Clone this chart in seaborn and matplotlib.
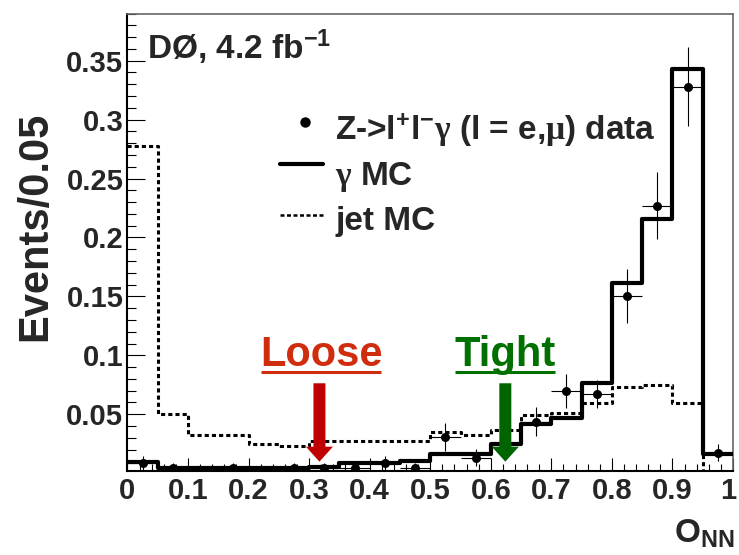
import numpy as np
import pandas as pd
import matplotlib
matplotlib.use("Agg")
import matplotlib.pyplot as plt
import matplotlib.transforms as mtransforms
import seaborn as sns
from matplotlib.ticker import FixedLocator, MultipleLocator

# ---------------- data ----------------
bin_edges = [0.0, 0.05, 0.1, 0.15, 0.2, 0.25, 0.3, 0.35, 0.4, 0.45, 0.5,
             0.55, 0.6, 0.65, 0.7, 0.75, 0.8, 0.85, 0.9, 0.95, 1.0]
bin_centers = [0.025, 0.075, 0.125, 0.175, 0.225, 0.275, 0.325, 0.375, 0.425, 0.475,
               0.525, 0.575, 0.625, 0.675, 0.725, 0.775, 0.825, 0.875, 0.925, 0.975]
gamma_mc = [0.0093, 0.0042, 0.0042, 0.0042, 0.0042, 0.0042, 0.0050, 0.0084, 0.0084, 0.0106,
            0.0163, 0.0163, 0.0250, 0.0418, 0.0466, 0.0768, 0.1610, 0.2158, 0.3430, 0.0160]
jet_mc = [0.2780, 0.0503, 0.0324, 0.0324, 0.0248, 0.0231, 0.0276, 0.0276, 0.0276, 0.0276,
          0.0352, 0.0324, 0.0367, 0.0494, 0.0508, 0.0596, 0.0734, 0.0749, 0.0593, 0.0010]
data_vals = [0.0084, 0.0042, 0.0, 0.0042, 0.0, 0.0042, 0.0042, 0.0042, 0.0084, 0.0042,
             0.0305, 0.0133, 0.0250, 0.0437, 0.0700, 0.0670, 0.1504, 0.2271, 0.3280, 0.0174]
data_errs = [0.0060, 0.0042, 0.0, 0.0042, 0.0, 0.0042, 0.0042, 0.0042, 0.0060, 0.0042,
             0.0120, 0.0072, 0.0100, 0.0122, 0.0145, 0.0120, 0.0227, 0.0283, 0.0332, 0.0071]
x_ticks = [0.0, 0.1, 0.2, 0.3, 0.4, 0.5, 0.6, 0.7, 0.8, 0.9, 1.0]
x_tick_labels = ["0", "0.1", "0.2", "0.3", "0.4", "0.5", "0.6", "0.7", "0.8", "0.9", "1"]
y_ticks = [0.05, 0.1, 0.15, 0.2, 0.25, 0.3, 0.35]
y_tick_labels = ["0.05", "0.1", "0.15", "0.2", "0.25", "0.3", "0.35"]
loose_cut = 0.317
tight_cut = 0.624
arrow_top = 0.0763
arrow_tip = 0.0098
label_y = 0.0906

# ---------------- style ----------------
sns.set_style("ticks")
plt.rcParams["font.family"] = ["Liberation Sans", "DejaVu Sans"]
plt.rcParams["font.weight"] = "bold"
plt.rcParams["mathtext.fontset"] = "custom"
plt.rcParams["mathtext.rm"] = "Liberation Sans:bold"
plt.rcParams["mathtext.bf"] = "Liberation Sans:bold"
plt.rcParams["mathtext.sf"] = "Liberation Serif"
plt.rcParams["mathtext.default"] = "regular"

fig = plt.figure(figsize=(7.39, 5.55), dpi=100)
ax = fig.add_axes([0.17253, 0.15225, 0.81935, 0.82342])

hist_df = pd.DataFrame({"center": bin_centers, "gamma": gamma_mc, "jet": jet_mc})

sns.histplot(data=hist_df, x="center", weights="jet", bins=bin_edges, element="step",
             fill=False, color="black", linewidth=2.2, linestyle=(0, (1.35, 1.0)),
             ax=ax, zorder=2)
sns.histplot(data=hist_df, x="center", weights="gamma", bins=bin_edges, element="step",
             fill=False, color="black", linewidth=3.0, ax=ax, zorder=3)

data_df = pd.DataFrame({"x": bin_centers, "y": data_vals, "err": data_errs})
data_df = data_df[data_df["y"] > 0]
half_width = [0.025] * len(data_df)
ax.errorbar(data_df["x"], data_df["y"], yerr=data_df["err"], xerr=half_width,
            fmt="none", ecolor="black", elinewidth=0.8, capsize=0, zorder=4)
sns.scatterplot(data=data_df, x="x", y="y", color="black", s=42, edgecolor="black",
                linewidth=0, ax=ax, zorder=5, legend=False)

# cut arrows
ax.arrow(loose_cut, arrow_top, 0, arrow_tip - arrow_top, width=0.0198, head_width=0.0446,
         head_length=0.0127, length_includes_head=True, color="#c00000", lw=0, zorder=6)
ax.arrow(tight_cut, arrow_top, 0, arrow_tip - arrow_top, width=0.0198, head_width=0.0446,
         head_length=0.0127, length_includes_head=True, color="#006400", lw=0, zorder=6)
t_loose = ax.text(0.3196, label_y, "Loose", color="#d02d0f", fontsize=30, fontweight="bold",
                  ha="center", va="baseline", zorder=7)
t_tight = ax.text(0.6235, label_y, "Tight", color="#007000", fontsize=30, fontweight="bold",
                  ha="center", va="baseline", zorder=7)

# axes
ax.set_xlim(0, 1)
ax.set_ylim(0.0023, 0.390)
ax.xaxis.set_major_locator(FixedLocator(x_ticks))
ax.set_xticklabels(x_tick_labels)
ax.xaxis.set_minor_locator(MultipleLocator(0.02))
ax.yaxis.set_major_locator(FixedLocator(y_ticks))
ax.set_yticklabels(y_tick_labels)
ax.yaxis.set_minor_locator(MultipleLocator(0.01))
ax.tick_params(axis="both", which="both", direction="in", color="black", width=0.8,
               top=False, right=False)
ax.tick_params(axis="x", which="major", length=9.4, pad=4.5, labelsize=21)
ax.tick_params(axis="x", which="minor", length=5.0)
ax.tick_params(axis="y", which="major", length=13, pad=3, labelsize=21)
ax.tick_params(axis="y", which="minor", length=6.5)
for lab in ax.get_xticklabels() + ax.get_yticklabels():
    lab.set_fontweight("bold")
# keep the last x label ("1") inside the canvas
last_lab = ax.get_xticklabels()[-1]
last_lab.set_transform(last_lab.get_transform() +
                       mtransforms.ScaledTranslation(-5 / 100, 0, fig.dpi_scale_trans))

for side in ["left", "bottom"]:
    ax.spines[side].set_color("black")
    ax.spines[side].set_linewidth(1.5)
for side in ["top", "right"]:
    ax.spines[side].set_color("#666666")
    ax.spines[side].set_linewidth(1.2)

ax.set_xlabel("")
ax.set_ylabel("Events/0.05", fontsize=30, fontweight="bold")
ax.yaxis.set_label_coords(-0.12, 0.535)
fig.text(0.9946, 0.0216, r"O$_{NN}$", fontsize=24, fontweight="bold", ha="right",
         va="baseline")

# experiment label
ax.text(0.0322, 0.9004, r"DØ, 4.2 fb$^{-1}$", transform=ax.transAxes, fontsize=24,
        fontweight="bold", ha="left", va="baseline")

# legend (drawn by hand, ROOT style)
ax.scatter([0.2931], [0.7632], s=42, color="black", transform=ax.transAxes, zorder=8)
ax.plot([0.2519, 0.3229], [0.6707, 0.6707], color="black", lw=3.0, transform=ax.transAxes)
ax.plot([0.2519, 0.3229], [0.5591, 0.5591], color="black", lw=1.8,
        linestyle=(0, (1.6, 1.0)), transform=ax.transAxes)
ax.text(0.3427, 0.7232, r"Z->l$^{+}$l$^{-}$$\mathsf{\gamma}$ (l = e,$\mathsf{\mu}$) data",
        transform=ax.transAxes, fontsize=24, fontweight="bold", ha="left", va="baseline")
ax.text(0.3427, 0.6247, r"$\mathsf{\gamma}$ MC", transform=ax.transAxes, fontsize=24,
        fontweight="bold", ha="left", va="baseline")
ax.text(0.3427, 0.5263, "jet MC", transform=ax.transAxes, fontsize=24,
        fontweight="bold", ha="left", va="baseline")

# underlines for the cut labels
fig.canvas.draw()
inv = ax.transData.inverted()
for txt, col in [(t_loose, "#d02d0f"), (t_tight, "#007000")]:
    bb = txt.get_window_extent()
    base = ax.transData.transform((0, label_y))[1]
    p0 = inv.transform((bb.x0 + 1, base - 6))
    p1 = inv.transform((bb.x1 - 1, base - 6))
    ax.plot([p0[0], p1[0]], [p0[1], p1[1]], color=col, lw=2.2, zorder=7,
            solid_capstyle="butt")

fig.savefig("out.png", dpi=100)
